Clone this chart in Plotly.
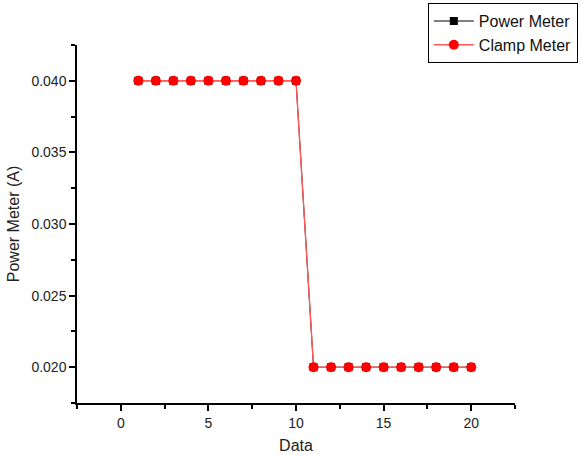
import plotly.graph_objects as go

data_idx = list(range(1, 21))
power_meter = [0.040] * 10 + [0.020] * 10
clamp_meter = [0.040] * 10 + [0.020] * 10

fig = go.Figure()
fig.add_trace(go.Scatter(
    x=data_idx, y=power_meter, mode="lines+markers", name="Power Meter",
    line=dict(color="black", width=1),
    marker=dict(symbol="square", size=8, color="black"),
))
fig.add_trace(go.Scatter(
    x=data_idx, y=clamp_meter, mode="lines+markers", name="Clamp Meter",
    line=dict(color="#ff5a5a", width=1.4),
    marker=dict(symbol="circle", size=10, color="red"),
))

font = "Liberation Sans, Arial, sans-serif"
fig.update_layout(
    width=580, height=459,
    margin=dict(l=77, r=65, t=45, b=56, autoexpand=False),
    paper_bgcolor="white", plot_bgcolor="white",
    font=dict(family=font, size=14, color="#222"),
    showlegend=True,
    legend=dict(x=0.801, y=1.117, xanchor="left", yanchor="top",
                bordercolor="black", borderwidth=1, bgcolor="white",
                font=dict(size=16, color="#111"), tracegroupgap=0,
                itemwidth=40),
    xaxis=dict(range=[-2.5, 22.5], dtick=5, tick0=0, showgrid=False, zeroline=False,
               showline=True, linecolor="black", linewidth=1.5, automargin=False,
               ticks="outside", ticklen=6, tickwidth=1.5, tickcolor="black",
               minor=dict(ticks="outside", dtick=2.5, tick0=0, ticklen=4, tickcolor="black", tickwidth=1.5),
               title=dict(text="Data", font=dict(size=16), standoff=10),
               tickfont=dict(size=14)),
    yaxis=dict(range=[0.0175, 0.0425], dtick=0.005, tick0=0.02, showgrid=False, zeroline=False,
               showline=True, linecolor="black", linewidth=1.5, automargin=False,
               ticks="outside", ticklen=6, tickwidth=1.5, tickcolor="black",
               minor=dict(ticks="outside", dtick=0.0025, tick0=0.02, ticklen=4, tickcolor="black", tickwidth=1.5),
               tickformat=".3f",
               title=dict(text="Power Meter (A)", font=dict(size=16), standoff=8),
               tickfont=dict(size=14)),
)

fig.write_html("out.html", config={"displayModeBar": False},
               post_script="document.body.style.margin='0';")
